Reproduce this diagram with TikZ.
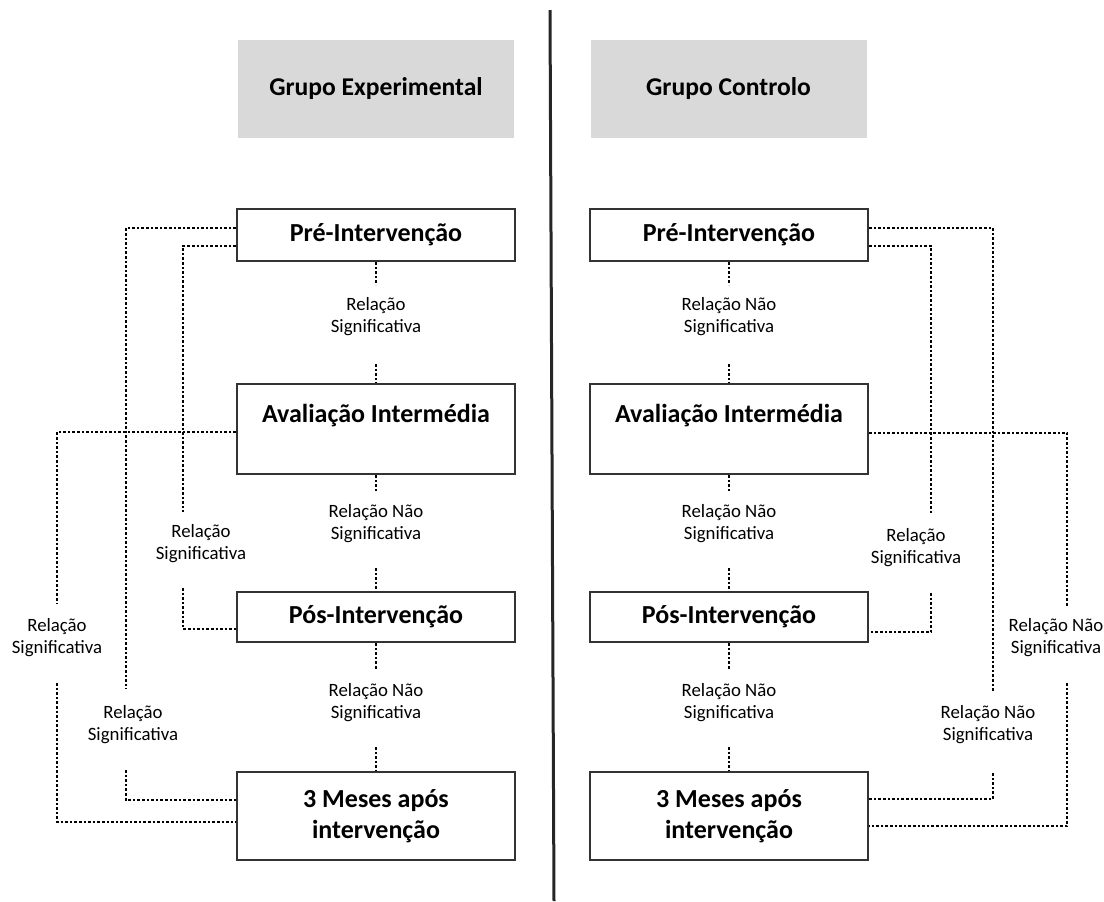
\documentclass[tikz,border=0pt]{standalone}
\usepackage{fontspec}
\setmainfont{Carlito}
\usepackage{tikz}
\usetikzlibrary{calc}
\tikzset{
  etapa/.style={draw=black!80, line width=1pt, fill=white, minimum width=139pt, inner sep=0pt, align=center, font=\fontsize{13}{15.5}\selectfont\bfseries},
  grupo/.style={fill=black!15, minimum width=138pt, minimum height=49pt, font=\fontsize{12.8}{15.5}\selectfont\bfseries},
  relacao/.style={align=center, inner sep=0pt, font=\fontsize{9.4}{11}\selectfont},
  ligacao/.style={line width=1.45pt, dash pattern=on 1.3pt off 1pt},
}

\begin{document}
\begin{tikzpicture}[x=0.5pt, y=-0.5pt]
  \useasboundingbox (0,0) rectangle (1104,901);
  \draw[line width=1.5pt, black!85] (550,10) -- (554,901);

  % cabecalhos
  \node[grupo] (gExp) at (376,89) {Grupo Experimental};
  \node[grupo] (gCtr) at (728.5,89) {Grupo Controlo};

  % grupo experimental
  \node[etapa, minimum height=26pt] (preE) at (376,235) {Pré-Intervenção};
  \node[etapa, minimum height=45pt] (avalE) at (376,429) {Avaliação Intermédia\\\mbox{}};
  \node[etapa, minimum height=25pt] (posE) at (376,617) {Pós-Intervenção};
  \node[etapa, minimum height=44pt] (tresE) at (376,816) {3 Meses após\\intervenção};

  \node[relacao] (lE1) at (376,317) {Relação\\Significativa};
  \node[relacao] (lE2) at (376,524) {Relação Não\\Significativa};
  \node[relacao] (lE3) at (376,703) {Relação Não\\Significativa};

  \node[relacao] (sA) at (57,638) {Relação\\Significativa};
  \node[relacao] (sB) at (133,725) {Relação\\Significativa};
  \node[relacao] (sC) at (201,544) {Relação\\Significativa};

  % grupo controlo
  \node[etapa, minimum height=26pt] (preC) at (729,235) {Pré-Intervenção};
  \node[etapa, minimum height=45pt] (avalC) at (729,429) {Avaliação Intermédia\\\mbox{}};
  \node[etapa, minimum height=25pt] (posC) at (729,617) {Pós-Intervenção};
  \node[etapa, minimum height=44pt] (tresC) at (729,816) {3 Meses após\\intervenção};

  \node[relacao] (lC1) at (729,317) {Relação Não\\Significativa};
  \node[relacao] (lC2) at (729,524) {Relação Não\\Significativa};
  \node[relacao] (lC3) at (729,703) {Relação Não\\Significativa};

  \node[relacao] (sD) at (988,725) {Relação Não\\Significativa};
  \node[relacao] (sE) at (916,548) {Relação\\Significativa};
  \node[relacao] (sF) at (1056,638) {Relação Não\\Significativa};

  % ligacoes centrais
  \draw[ligacao] (preE.south) -- ($(lE1)+(0,-32)$);
  \draw[ligacao] ($(lE1)+(0,47)$) -- (avalE.north);
  \draw[ligacao] (avalE.south) -- ($(lE2)+(0,-32)$);
  \draw[ligacao] ($(lE2)+(0,44)$) -- (posE.north);
  \draw[ligacao] (posE.south) -- ($(lE3)+(0,-33)$);
  \draw[ligacao] ($(lE3)+(0,44)$) -- (tresE.north);

  \draw[ligacao] (preC.south) -- ($(lC1)+(0,-32)$);
  \draw[ligacao] ($(lC1)+(0,47)$) -- (avalC.north);
  \draw[ligacao] (avalC.south) -- ($(lC2)+(0,-32)$);
  \draw[ligacao] ($(lC2)+(0,44)$) -- (posC.north);
  \draw[ligacao] (posC.south) -- ($(lC3)+(0,-33)$);
  \draw[ligacao] ($(lC3)+(0,44)$) -- (tresC.north);

  % ligacoes laterais
  \draw[ligacao] ($(avalE.west)+(0,3)$) -| ($(sA)+(0,-35)$);
  \draw[ligacao] ($(sA)+(0,45)$) |- ($(tresE.west)+(0,6)$);
  \draw[ligacao] ($(preE.west)+(0,-7)$) -| ($(sB)+(-7,-36)$);
  \draw[ligacao] ($(sB)+(-7,45)$) |- ($(tresE.west)+(0,-16)$);
  \draw[ligacao] ($(preE.west)+(0,11)$) -| ($(sC)+(-18,-32)$);
  \draw[ligacao] ($(sC)+(-18,44)$) |- ($(posE.west)+(0,12)$);

  \draw[ligacao] ($(preC.east)+(0,-7)$) -| ($(sD)+(5,-33)$);
  \draw[ligacao] ($(sD)+(5,48)$) |- ($(tresC.east)+(0,-17)$);
  \draw[ligacao] ($(preC.east)+(0,11)$) -| ($(sE)+(15,-33)$);
  \draw[ligacao] ($(sE)+(15,45)$) |- ($(posC.east)+(0,15)$);
  \draw[ligacao] ($(avalC.east)+(0,4)$) -| ($(sF)+(11,-32)$);
  \draw[ligacao] ($(sF)+(11,45)$) |- ($(tresC.east)+(0,10)$);
\end{tikzpicture}
\end{document}
